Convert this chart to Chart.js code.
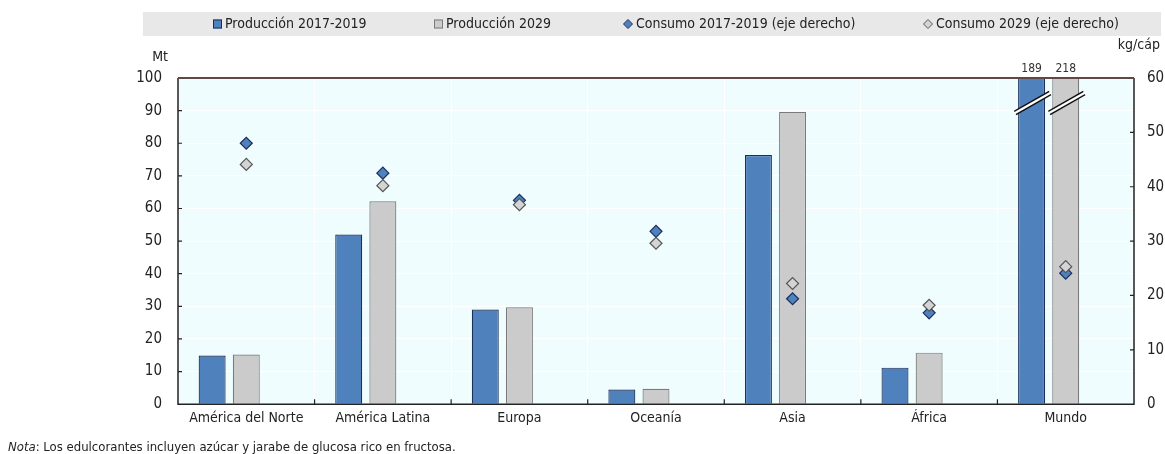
<!DOCTYPE html>
<html lang="es">
<head>
<meta charset="utf-8">
<title>Edulcorantes: producción y consumo</title>
<script src="https://cdn.jsdelivr.net/npm/chart.js@4.4.1/dist/chart.umd.min.js"></script>
<style>
  html, body { margin: 0; padding: 0; background: #fff; }
  #wrap { position: relative; width: 1165px; height: 454px; }
</style>
</head>
<body>
<div id="wrap"><canvas id="sweetenerChart"></canvas></div>
<script>
// Regions and values (production in Mt, consumption in kg per capita)
const regions = ['América del Norte', 'América Latina', 'Europa', 'Oceanía', 'Asia', 'África', 'Mundo'];
const prod1719 = [14.9, 52.0, 29.0, 4.5, 76.4, 11.2, 189];
const prod2029 = [15.2, 62.2, 29.7, 4.7, 89.6, 15.8, 218];
const cons1719 = [48.0, 42.5, 37.5, 31.8, 19.4, 16.8, 24.1];
const cons2029 = [44.1, 40.2, 36.7, 29.6, 22.2, 18.2, 25.3];
const leftMax = 100;   // Mt
const rightMax = 60;   // kg/cáp
const tickStep = 10;

const FONT = '"Liberation Sans Narrow", "Arial Narrow", "DejaVu Sans Condensed", sans-serif';
const BLUE = '#4f81bd';
const BLUE_EDGE = '#1c2f5a';
const GREY = '#cbcbcb';
const GREY_EDGE = '#7a7a7a';

// background, frame, inner ticks, axis units, broken bars and legend
const decor = {
    id: 'decor',
    beforeDraw(chart) {
        const {ctx, chartArea: a} = chart;
        ctx.save();
        ctx.fillStyle = '#effdfe';
        ctx.fillRect(a.left, a.top, a.right - a.left, a.bottom - a.top);
        ctx.restore();
    },
    afterDatasetsDraw(chart) {
        const {ctx, chartArea: a} = chart;
        ctx.save();

        // bars running past the top of the axis: break marks and their values
        [0, 1].forEach(di => {
            const meta = chart.getDatasetMeta(di);
            meta.data.forEach((bar, i) => {
                const v = chart.data.datasets[di].data[i];
                if (v <= leftMax) return;
                const half = bar.width / 2;
                const cy = a.top + 25;
                const x0 = bar.x - half - 3, x1 = bar.x + half + 5;
                ctx.lineCap = 'butt';
                ctx.strokeStyle = '#111';
                ctx.lineWidth = 5;
                ctx.beginPath(); ctx.moveTo(x0, cy + 10); ctx.lineTo(x1, cy - 10); ctx.stroke();
                ctx.strokeStyle = '#ffffff';
                ctx.lineWidth = 2.2;
                ctx.beginPath(); ctx.moveTo(x0 - 1, cy + 10.5); ctx.lineTo(x1 + 1, cy - 10.5); ctx.stroke();
                ctx.fillStyle = '#333';
                ctx.font = '12px ' + FONT;
                ctx.textAlign = 'center';
                ctx.textBaseline = 'alphabetic';
                ctx.fillText(String(v), bar.x, a.top - 6);
            });
        });
        ctx.restore();
    },
    afterDraw(chart) {
        const {ctx, chartArea: a, scales} = chart;
        ctx.save();

        // frame
        ctx.lineWidth = 1.5;
        ctx.strokeStyle = '#222';
        ctx.beginPath();
        ctx.moveTo(a.left, a.top); ctx.lineTo(a.left, a.bottom); ctx.lineTo(a.right, a.bottom); ctx.lineTo(a.right, a.top);
        ctx.stroke();
        ctx.strokeStyle = '#5e4848';
        ctx.lineWidth = 2;
        ctx.beginPath(); ctx.moveTo(a.left, a.top); ctx.lineTo(a.right, a.top); ctx.stroke();

        // inner tick marks
        ctx.strokeStyle = '#222';
        ctx.lineWidth = 1.2;
        ctx.beginPath();
        scales.y.ticks.forEach((t, i) => {
            const py = scales.y.getPixelForTick(i);
            if (py <= a.top + 1 || py >= a.bottom - 1) return;
            ctx.moveTo(a.left, py); ctx.lineTo(a.left + 4, py);
        });
        scales.y2.ticks.forEach((t, i) => {
            const py = scales.y2.getPixelForTick(i);
            if (py <= a.top + 1 || py >= a.bottom - 1) return;
            ctx.moveTo(a.right, py); ctx.lineTo(a.right - 4, py);
        });
        const step = (a.right - a.left) / regions.length;
        for (let k = 1; k < regions.length; k++) {
            const px = a.left + k * step;
            ctx.moveTo(px, a.bottom); ctx.lineTo(px, a.bottom - 5);
        }
        ctx.stroke();

        // axis units
        ctx.fillStyle = '#222';
        ctx.font = '14px ' + FONT;
        ctx.textBaseline = 'middle';
        ctx.textAlign = 'right';
        ctx.fillText('Mt', 168, 57);
        ctx.fillText('kg/cáp', 1160, 45);

        // note
        ctx.textAlign = 'left';
        ctx.textBaseline = 'alphabetic';
        ctx.font = 'italic 13px ' + FONT;
        ctx.fillText('Nota', 8, 451);
        const w = ctx.measureText('Nota').width;
        ctx.font = '13px ' + FONT;
        ctx.fillText(': Los edulcorantes incluyen azúcar y jarabe de glucosa rico en fructosa.', 8 + w, 451);

        // legend band
        ctx.fillStyle = '#e8e8e8';
        ctx.fillRect(143, 12, 1165 - 143 - 4, 24);
        const items = [
            {ds: 0, x: 213, shape: 'square'},
            {ds: 1, x: 434, shape: 'square'},
            {ds: 2, x: 624, shape: 'diamond'},
            {ds: 3, x: 924, shape: 'diamond'}
        ];
        const cy = 24;
        ctx.font = '14px ' + FONT;
        ctx.textBaseline = 'middle';
        items.forEach(it => {
            const d = chart.data.datasets[it.ds];
            ctx.fillStyle = it.shape === 'square' ? d.backgroundColor : d.pointBackgroundColor;
            ctx.strokeStyle = it.shape === 'square' ? d.borderColor : d.pointBorderColor;
            ctx.lineWidth = 1;
            if (it.shape === 'square') {
                ctx.fillRect(it.x, cy - 4.5, 9, 9);
                ctx.strokeRect(it.x + 0.5, cy - 4, 8, 8);
            } else {
                ctx.beginPath();
                ctx.moveTo(it.x + 4, cy - 4.5); ctx.lineTo(it.x + 8.5, cy);
                ctx.lineTo(it.x + 4, cy + 4.5); ctx.lineTo(it.x - 0.5, cy);
                ctx.closePath(); ctx.fill(); ctx.stroke();
            }
            ctx.fillStyle = '#222';
            ctx.fillText(d.label, it.x + 12, cy);
        });
        ctx.restore();
    }
};

const data = {
    labels: regions,
    datasets: [{
        label: 'Producción 2017-2019',
        data: prod1719,
        backgroundColor: BLUE,
        borderColor: BLUE_EDGE,
        borderWidth: 1.2,
        yAxisID: 'y',
        order: 1,
        clip: 0
    }, {
        label: 'Producción 2029',
        data: prod2029,
        backgroundColor: GREY,
        borderColor: GREY_EDGE,
        borderWidth: 1.2,
        yAxisID: 'y',
        order: 1,
        clip: 0
    }, {
        type: 'line',
        label: 'Consumo 2017-2019 (eje derecho)',
        data: cons1719,
        showLine: false,
        pointStyle: 'rectRot',
        pointRadius: 6,
        pointBackgroundColor: BLUE,
        pointBorderColor: BLUE_EDGE,
        pointBorderWidth: 1.2,
        yAxisID: 'y2',
        order: 0
    }, {
        type: 'line',
        label: 'Consumo 2029 (eje derecho)',
        data: cons2029,
        showLine: false,
        pointStyle: 'rectRot',
        pointRadius: 6,
        pointBackgroundColor: '#d4d4d4',
        pointBorderColor: '#555',
        pointBorderWidth: 1.2,
        yAxisID: 'y2',
        order: -1
    }, {
        // empty third slot so the bar pair sits left of each category centre
        label: '',
        data: [],
        yAxisID: 'y',
        order: 1
    }]
};

const config = {
    type: 'bar',
    data: data,
    options: {
        responsive: false,
        animation: false,
        layout: { padding: { top: 78, bottom: 21, left: 0, right: 0 } },
        datasets: {
            bar: { categoryPercentage: 0.75, barPercentage: 0.79 }
        },
        plugins: {
            legend: { display: false },
            tooltip: { enabled: false }
        },
        scales: {
            x: {
                grid: { color: '#ffffff', lineWidth: 1, drawTicks: false, offset: true },
                border: { display: false },
                ticks: { color: '#222', padding: 6, font: { family: FONT, size: 14 }, maxRotation: 0 }
            },
            y: {
                position: 'left',
                min: 0,
                max: leftMax,
                afterFit(scale) { scale.width = 178; },
                grid: { color: '#ffffff', lineWidth: 1, drawTicks: false },
                border: { display: false },
                ticks: { stepSize: tickStep, color: '#222', padding: 16, font: { family: FONT, size: 15 } }
            },
            y2: {
                position: 'right',
                min: 0,
                max: rightMax,
                afterFit(scale) { scale.width = 31; },
                grid: { display: false, drawTicks: false },
                border: { display: false },
                ticks: { stepSize: tickStep, color: '#222', padding: 13, align: 'center', font: { family: FONT, size: 15 } }
            }
        }
    },
    plugins: [decor]
};

window.addEventListener('load', () => {
    const canvas = document.getElementById('sweetenerChart');
    canvas.width = 1165;
    canvas.height = 454;
    new Chart(canvas.getContext('2d'), config);
});
</script>
</body>
</html>
